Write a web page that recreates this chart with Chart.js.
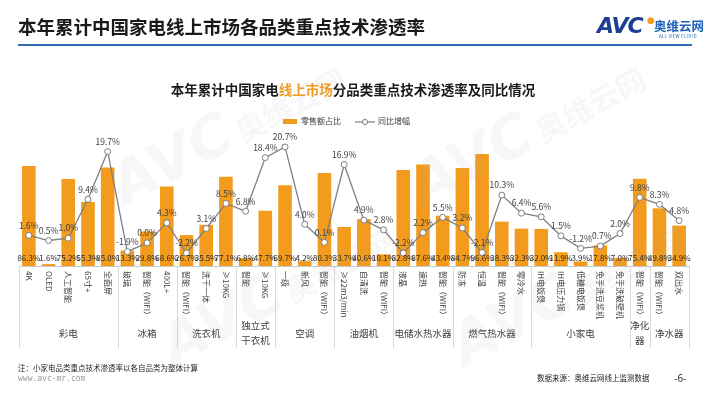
<!DOCTYPE html>
<html lang="zh-CN">
<head>
<meta charset="utf-8">
<title>本年累计中国家电线上市场各品类重点技术渗透率</title>
<script src="https://cdn.jsdelivr.net/npm/chart.js@4.4.1/dist/chart.umd.min.js"></script>
<style>
    html, body { margin: 0; padding: 0; background: #fff; }
    body {
        width: 710px; height: 399px; position: relative; overflow: hidden;
        font-family: "Noto Sans CJK SC", "Noto Sans", sans-serif; color: #1a1a1a;
    }
    #chart { position: absolute; left: 0; top: 0; }
    .abs { position: absolute; white-space: nowrap; }
    #pageTitle { left: 18px; top: 13px; font-size: 18.5px; font-weight: bold; line-height: 26px; }
    #rule { left: 18px; top: 44px; width: 674px; height: 2px; background: #2f6eb5; }
    #logo { left: 597px; top: 13px; }
    #logo .avc { position: absolute; left: 0; top: 0; font: italic 900 22px "DejaVu Sans", sans-serif; color: #1c3f94; letter-spacing: -1px; }
    #logo .avc i { color: #f29b1d; font-style: normal; font-size: 9px; position: absolute; left: 50px; top: 2px; }
    #logo .cn { position: absolute; left: 57px; top: 3px; font-size: 12.5px; font-weight: bold; color: #1d62b8; }
    #logo .en { position: absolute; left: 62px; top: 20px; font-size: 4.5px; color: #1d62b8; letter-spacing: 0.2px; }
    #chartTitle { left: 0; width: 706px; top: 79px; text-align: center; font-size: 13.5px; font-weight: bold; }
    #chartTitle span { color: #f29b1d; }
    #legend { left: 283px; top: 114px; font-size: 8px; color: #404040; line-height: 14px; }
    #legend .sw { display: inline-block; width: 14px; height: 5px; background: #f29b1d; vertical-align: middle; margin-right: 4px; }
    #legend svg { vertical-align: middle; margin: 0 3px 0 14px; }
    #note { left: 18px; top: 362px; font-size: 7.5px; color: #262626; }
    #site { left: 18px; top: 374px; font-size: 8px; color: #9a9a9a; font-family: "DejaVu Sans Mono", monospace; }
    #source { left: 537px; top: 372px; font-size: 7.5px; color: #262626; }
    #page { left: 674px; top: 370px; font-size: 10px; color: #262626; }
    .wm { position: absolute; pointer-events: none; color: rgba(170, 170, 170, 0.09); transform: rotate(-28deg); white-space: nowrap; }
    .wm .big { font: italic 900 58px "DejaVu Sans", sans-serif; }
    .wm .cn { font: bold 30px "Noto Sans CJK SC", sans-serif; margin-left: 6px; }
</style>
</head>
<body>
<canvas id="chart" width="710" height="399"></canvas>

<div class="abs" id="pageTitle">本年累计中国家电线上市场各品类重点技术渗透率</div>
<div class="abs" id="rule"></div>
<div class="abs" id="logo">
    <span class="avc">AVC<i>●</i></span>
    <span class="cn">奥维云网</span>
    <span class="en">ALL VIEW CLOUD</span>
</div>
<div class="abs" id="chartTitle">本年累计中国家电<span>线上市场</span>分品类重点技术渗透率及同比情况</div>
<div class="abs" id="legend">
    <span class="sw"></span>零售额占比<svg width="20" height="8"><line x1="0" y1="4" x2="20" y2="4" stroke="#7f7f7f" stroke-width="1.2"/><circle cx="10" cy="4" r="2.6" fill="#fff" stroke="#7f7f7f" stroke-width="1"/></svg>同比增幅
</div>
<div class="abs" id="note">注：小家电品类重点技术渗透率以各自品类为整体计算</div>
<div class="abs" id="site">www.avc-mr.com</div>
<div class="abs" id="source">数据来源：奥维云网线上监测数据</div>
<div class="abs" id="page">-6-</div>

<div class="wm" style="left:100px; top:95px;"><span class="big">AVC</span><span class="cn">奥维云网</span></div>
<div class="wm" style="left:400px; top:95px;"><span class="big">AVC</span><span class="cn">奥维云网</span></div>
<div class="wm" style="left:150px; top:255px;"><span class="big">AVC</span><span class="cn">奥维云网</span></div>
<div class="wm" style="left:440px; top:255px;"><span class="big">AVC</span><span class="cn">奥维云网</span></div>

<script>
'use strict';

// Category labels (one per bar)
const categories = [
    '4K', 'OLED', '人工智能', '65寸+', '全面屏',
    '玻璃', '智能（WIFI）', '400L+',
    '智能（WIFI）', '洗干一体', '≥10KG',
    '智能', '≥10KG',
    '一级', '新风', '智能（WIFI）',
    '≥22m3/min', '自清洗', '智能（WIFI）',
    '液晶', '速热', '智能（WIFI）',
    '防冻', '恒温', '智能（WIFI）', '零冷水',
    'IH电饭煲', 'IH电压力锅', '低糖电饭煲', '免手洗豆浆机', '免手洗破壁机',
    '智能（WIFI）',
    '智能（WIFI）', '双出水'
];

// Product groups below the labels
const groupNames = ['彩电', '冰箱', '洗衣机', '独立式\n干衣机', '空调', '油烟机', '电储水热水器', '燃气热水器', '小家电', '净化\n器', '净水器'];
const groupSizes = [5, 3, 3, 2, 3, 3, 3, 4, 5, 1, 2];

// 零售额占比 (%)
const shareValues = [
    86.3, 1.6, 75.2, 55.3, 85.0,
    13.3, 29.8, 68.6,
    26.7, 35.5, 77.1,
    6.8, 47.7,
    69.7, 4.2, 80.3,
    33.7, 40.6, 10.1,
    82.8, 87.6, 43.4,
    84.7, 96.6, 38.3, 32.3,
    32.0, 11.9, 3.9, 17.8, 7.0,
    75.4,
    49.8, 34.9
];

// 同比增幅 (%)
const growthValues = [
    1.6, 0.5, 1.0, 9.4, 19.7,
    -1.9, 0.0, 4.3,
    -2.2, 3.1, 8.5,
    6.8, 18.4,
    20.7, 4.0, 0.1,
    16.9, 4.9, 2.8,
    -2.2, 2.2, 5.5,
    3.2, -2.1, 10.3, 6.4,
    5.6, 1.5, -1.2, -0.7, 2.0,
    9.8,
    8.3, 4.8
];

const ORANGE = '#f29b1d';
const GREY_LINE = '#7f7f7f';
const TEXT = '#404040';
const FONT = '"Noto Sans CJK SC", "Noto Sans", sans-serif';

/**
 * Value labels, rotated category labels and the group box under the axis
 */
const labelPlugin = {
    id: 'avcLabels',
    afterDatasetsDraw: function (chart) {
        const ctx = chart.ctx;
        const area = chart.chartArea;
        const x = chart.scales.x;
        const bars = chart.getDatasetMeta(0).data;
        const points = chart.getDatasetMeta(1).data;

        ctx.save();
        ctx.textAlign = 'center';
        ctx.textBaseline = 'middle';

        // bar values sit on the baseline
        ctx.font = '8px ' + FONT;
        ctx.fillStyle = '#262626';
        bars.forEach(function (bar, i) {
            ctx.fillText(shareValues[i].toFixed(1) + '%', bar.x, area.bottom - 8);
        });

        // growth values above each point
        ctx.font = '8.5px ' + FONT;
        ctx.fillStyle = TEXT;
        points.forEach(function (pt, i) {
            ctx.fillText(growthValues[i].toFixed(1) + '%', pt.x, pt.y - 10);
        });

        // axis line
        ctx.strokeStyle = '#c8c8c8';
        ctx.lineWidth = 1;
        ctx.beginPath();
        ctx.moveTo(area.left, area.bottom + 0.5);
        ctx.lineTo(area.right, area.bottom + 0.5);
        ctx.stroke();

        // rotated category labels, reading downwards
        ctx.font = '8px ' + FONT;
        ctx.fillStyle = TEXT;
        ctx.textAlign = 'left';
        categories.forEach(function (label, i) {
            ctx.save();
            ctx.translate(x.getPixelForValue(i), area.bottom + 5);
            ctx.rotate(Math.PI / 2);
            ctx.fillText(label, 0, 0);
            ctx.restore();
        });

        // group separators and names
        const step = (area.right - area.left) / categories.length;
        const boxBottom = area.bottom + 82;
        ctx.strokeStyle = '#d9d9d9';
        ctx.textAlign = 'center';
        ctx.font = '9.5px ' + FONT;
        let start = 0;
        for (let g = 0; g <= groupSizes.length; g++) {
            const edge = Math.round(area.left + start * step) + 0.5;
            ctx.beginPath();
            ctx.moveTo(edge, area.bottom);
            ctx.lineTo(edge, boxBottom);
            ctx.stroke();
            if (g === groupSizes.length) break;

            const mid = area.left + (start + groupSizes[g] / 2) * step;
            const lines = groupNames[g].split('\n');
            lines.forEach(function (line, k) {
                const y = area.bottom + 67 + (k - (lines.length - 1) / 2) * 15;
                ctx.fillText(line, mid, y);
            });
            start += groupSizes[g];
        }
        ctx.restore();
    }
};

new Chart(document.getElementById('chart').getContext('2d'), {
    type: 'bar',
    data: {
        labels: categories,
        datasets: [{
            type: 'bar',
            label: '零售额占比',
            data: shareValues,
            backgroundColor: ORANGE,
            barPercentage: 0.69,
            categoryPercentage: 1,
            yAxisID: 'y',
            order: 2
        }, {
            type: 'line',
            label: '同比增幅',
            data: growthValues,
            borderColor: GREY_LINE,
            borderWidth: 1.3,
            tension: 0,
            pointRadius: 3,
            pointBorderWidth: 1,
            pointBackgroundColor: '#fff',
            pointBorderColor: GREY_LINE,
            clip: false,
            yAxisID: 'y1',
            order: 1
        }]
    },
    options: {
        responsive: false,
        animation: false,
        layout: {
            padding: { left: 19, right: 21, top: 127, bottom: 133 }
        },
        plugins: {
            legend: { display: false },
            tooltip: { enabled: false }
        },
        scales: {
            x: { display: false, offset: true, grid: { display: false } },
            y: { display: false, min: 0, max: 120 },
            y1: { display: false, min: -5, max: 25, position: 'right' }
        }
    },
    plugins: [labelPlugin]
});
</script>
</body>
</html>
